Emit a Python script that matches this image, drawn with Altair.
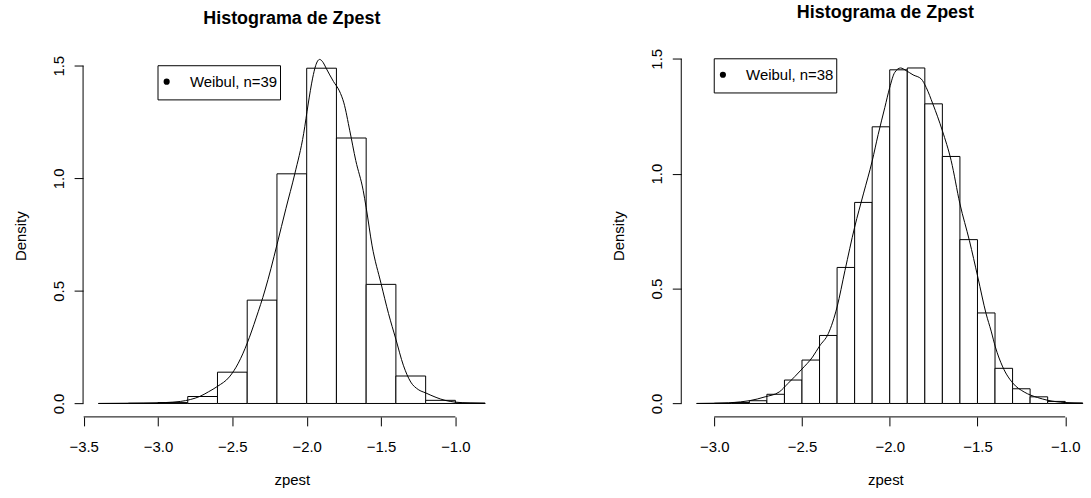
import altair as alt
import pandas as pd

FONT = "Liberation Sans"
TITLE = "Histograma de Zpest"

# ---------------- left panel: Weibul, n=39 ----------------
left_bin_start = [-3.4, -3.2, -3.0, -2.8, -2.6, -2.4, -2.2, -2.0, -1.8, -1.6, -1.4, -1.2, -1.0]
left_bin_end = [-3.2, -3.0, -2.8, -2.6, -2.4, -2.2, -2.0, -1.8, -1.6, -1.4, -1.2, -1.0, -0.8]
left_density = [0.000, 0.001, 0.004, 0.031, 0.139, 0.459, 1.020, 1.489, 1.179, 0.529, 0.122, 0.014, 0.002]
left_kde_x = [-3.40, -3.20, -3.00, -2.90, -2.85, -2.78, -2.72, -2.66, -2.60, -2.52,
              -2.46, -2.40, -2.34, -2.28, -2.24, -2.20, -2.14, -2.08, -2.02, -1.99,
              -1.96, -1.94, -1.913, -1.89, -1.87, -1.82, -1.78, -1.75, -1.71, -1.67,
              -1.62, -1.60, -1.56, -1.50, -1.45, -1.40, -1.35, -1.30, -1.25, -1.20,
              -1.13, -1.07, -1.00, -0.90, -0.80]
left_kde_y = [0.000, 0.001, 0.003, 0.006, 0.009, 0.018, 0.031, 0.052, 0.076, 0.118,
              0.179, 0.268, 0.380, 0.504, 0.600, 0.705, 0.865, 1.020, 1.200, 1.330,
              1.445, 1.500, 1.528, 1.515, 1.490, 1.430, 1.388, 1.335, 1.211, 1.079,
              0.946, 0.870, 0.700, 0.533, 0.400, 0.285, 0.170, 0.095, 0.062, 0.047,
              0.027, 0.014, 0.006, 0.002, 0.000]
left_label = "Weibul, n=39"
left_xticks = [-3.5, -3.0, -2.5, -2.0, -1.5, -1.0]

# ---------------- right panel: Weibul, n=38 ----------------
right_bin_start = [-3.1, -3.0, -2.9, -2.8, -2.7, -2.6, -2.5, -2.4, -2.3, -2.2, -2.1,
                   -2.0, -1.9, -1.8, -1.7, -1.6, -1.5, -1.4, -1.3, -1.2, -1.1, -1.0]
right_bin_end = [-3.0, -2.9, -2.8, -2.7, -2.6, -2.5, -2.4, -2.3, -2.2, -2.1, -2.0,
                 -1.9, -1.8, -1.7, -1.6, -1.5, -1.4, -1.3, -1.2, -1.1, -1.0, -0.9]
right_density = [0.000, 0.001, 0.004, 0.012, 0.040, 0.102, 0.189, 0.296, 0.592, 0.875, 1.204,
                 1.452, 1.460, 1.304, 1.075, 0.713, 0.394, 0.153, 0.064, 0.029, 0.009, 0.002]
right_kde_x = [-3.10, -3.00, -2.92, -2.85, -2.80, -2.71, -2.63, -2.58, -2.50, -2.44,
               -2.40, -2.35, -2.30, -2.255, -2.20, -2.15, -2.10, -2.066, -2.028, -2.00,
               -1.972, -1.938, -1.905, -1.867, -1.82, -1.792, -1.754, -1.70, -1.65, -1.60,
               -1.546, -1.498, -1.451, -1.422, -1.398, -1.356, -1.30, -1.234, -1.196, -1.158,
               -1.10, -1.00, -0.90]
right_kde_y = [0.000, 0.001, 0.003, 0.007, 0.012, 0.029, 0.050, 0.087, 0.150, 0.202,
               0.250, 0.304, 0.420, 0.579, 0.767, 0.912, 1.055, 1.170, 1.288, 1.375,
               1.440, 1.460, 1.448, 1.430, 1.412, 1.375, 1.303, 1.187, 1.057, 0.869,
               0.709, 0.550, 0.391, 0.315, 0.246, 0.159, 0.090, 0.050, 0.036, 0.026,
               0.014, 0.004, 0.001]
right_label = "Weibul, n=38"
right_xticks = [-3.0, -2.5, -2.0, -1.5, -1.0]

y_ticks = [0.0, 0.5, 1.0, 1.5]
legend_anchor = (-3.0, 1.5)  # legend top-left corner, in data units


def panel(bstart, bend, dens, kx, ky, label, xticks, xdom, ydom, width, height):
    bars_df = pd.DataFrame({"zpest": bstart, "zpest_end": bend, "Density": dens})
    kde_df = pd.DataFrame({"zpest": kx, "Density": ky})
    xaxis_df = pd.DataFrame({"zpest": [xticks[0]], "zpest_end": [xticks[-1]]})
    yaxis_df = pd.DataFrame({"Density": [y_ticks[0]], "Density_end": [y_ticks[-1]]})
    leg_df = pd.DataFrame({"zpest": [legend_anchor[0]], "Density": [legend_anchor[1]], "label": [label]})

    xs = alt.Scale(domain=xdom, nice=False, zero=False)
    ys = alt.Scale(domain=ydom, nice=False, zero=False)

    bars = alt.Chart(bars_df).mark_rect(fill="white", stroke="black", strokeWidth=1).encode(
        x=alt.X("zpest:Q", scale=xs, title="zpest",
                axis=alt.Axis(values=xticks, format=".1f")),
        x2="zpest_end:Q",
        y=alt.Y("Density:Q", scale=ys, title="Density",
                axis=alt.Axis(values=y_ticks, format=".1f")),
        y2=alt.datum(0),
    )
    kde = alt.Chart(kde_df).mark_line(color="black", strokeWidth=1, interpolate="monotone").encode(
        x="zpest:Q", y="Density:Q"
    )
    x_line = alt.Chart(xaxis_df).mark_rule(color="black", strokeWidth=1).encode(
        x="zpest:Q", x2="zpest_end:Q", y=alt.value(height)
    )
    y_line = alt.Chart(yaxis_df).mark_rule(color="black", strokeWidth=1).encode(
        y="Density:Q", y2="Density_end:Q", x=alt.value(0)
    )
    box = alt.Chart(leg_df).mark_rect(
        fill="white", stroke="black", strokeWidth=1, x2Offset=123, y2Offset=34.3
    ).encode(x="zpest:Q", x2="zpest:Q", y="Density:Q", y2="Density:Q")
    dot = alt.Chart(leg_df).mark_circle(
        color="black", opacity=1, size=38, xOffset=8.7, yOffset=16
    ).encode(x="zpest:Q", y="Density:Q")
    txt = alt.Chart(leg_df).mark_text(
        align="left", baseline="middle", dx=32, dy=16.7, fontSize=15, font=FONT, color="black"
    ).encode(x="zpest:Q", y="Density:Q", text="label:N")

    return alt.layer(bars, kde, x_line, y_line, box, dot, txt).properties(
        width=width, height=height,
        title=alt.Title(TITLE, frame="group"),
    )


left = panel(left_bin_start, left_bin_end, left_density, left_kde_x, left_kde_y, left_label,
             left_xticks, [-3.504, -0.696], [-0.0596, 1.5496], 419.2, 363.8)
right = panel(right_bin_start, right_bin_end, right_density, right_kde_x, right_kde_y, right_label,
              right_xticks, [-3.188, -0.861], [-0.0584, 1.5184], 410.0, 363.8)

chart = alt.hconcat(left, right, spacing=109.6).properties(
    padding={"left": 12.4, "top": 1.8, "right": 0, "bottom": 0}
).configure_view(
    stroke="transparent"
).configure_axis(
    grid=False, domain=False, tickColor="black", tickSize=9, tickWidth=1,
    labelColor="black", titleColor="black", labelFont=FONT, titleFont=FONT,
    labelFontSize=15, titleFontSize=15, titleFontWeight="normal",
    labelOverlap=False, labelFlush=False,
).configure_axisX(
    labelPadding=13.5, minExtent=35, maxExtent=35, titlePadding=33.3,
    titleBaseline="alphabetic",
).configure_axisY(
    labelAngle=270, labelAlign="center", labelBaseline="alphabetic", labelPadding=10.6,
    minExtent=30, maxExtent=30, titlePadding=28, titleAngle=270, titleBaseline="alphabetic",
).configure_title(
    font=FONT, fontSize=18, fontWeight="bold", anchor="middle", offset=27, color="black"
)

chart.save("out.html", embed_options={"renderer": "svg", "actions": False})
